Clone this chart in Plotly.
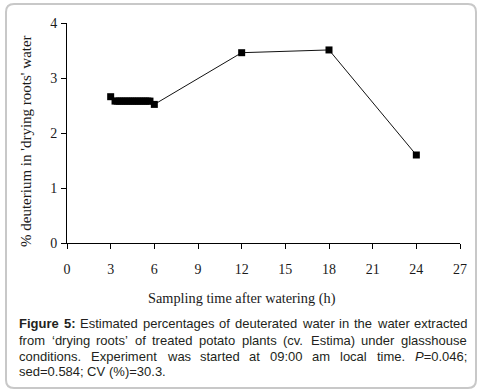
import plotly.graph_objects as go

# ---- data ----
time_h = [3, 3.3, 3.45, 3.6, 3.75, 3.9, 4.05, 4.2, 4.35, 4.5, 4.65, 4.8, 4.95, 5.1, 5.25, 5.4, 5.55, 5.7, 6, 12, 18, 24]
deut_pct = [2.66, 2.58, 2.58, 2.58, 2.58, 2.58, 2.58, 2.58, 2.58, 2.58, 2.58, 2.58, 2.58, 2.58, 2.58, 2.58, 2.58, 2.58, 2.52, 3.46, 3.51, 1.60]
x_ticks = [0, 3, 6, 9, 12, 15, 18, 21, 24, 27]
y_ticks = [0, 1, 2, 3, 4]

caption_lines = [
    ["<b>Figure</b>", "<b>5:</b>", "Estimated", "percentages", "of", "deuterated", "water", "in", "the", "water", "extracted"],
    ["from", "\u2018drying", "roots\u2019", "of", "treated", "potato", "plants", "(cv.", "Estima)", "under", "glasshouse"],
    ["conditions.", "Experiment", "was", "started", "at", "09:00", "am", "local", "time.", "<i>P</i>=0.046;"],
    ["sed=0.584;", "CV", "(%)=30.3."],
]

W, H = 482, 392
L, R, T, B = 67, 22, 23, 149
PW, PH = W - L - R, H - T - B

# Arial widths (per 1000 em)
AW = {' ': 278, 'a': 556, 'b': 556, 'c': 500, 'd': 556, 'e': 556, 'f': 278, 'g': 556, 'h': 556,
      'i': 222, 'j': 222, 'k': 500, 'l': 222, 'm': 833, 'n': 556, 'o': 556, 'p': 556, 'q': 556,
      'r': 333, 's': 500, 't': 278, 'u': 556, 'v': 500, 'w': 722, 'x': 500, 'y': 500, 'z': 500,
      'E': 667, 'F': 611, 'P': 667, 'C': 722, 'V': 667, ':': 278, '.': 278, ';': 278, '=': 584,
      '(': 333, ')': 333, '%': 889, '\u2018': 222, '\u2019': 222}
for d in '0123456789':
    AW[d] = 556
BW = {'F': 611, 'i': 278, 'g': 611, 'u': 611, 'r': 389, 'e': 556, '5': 556, ':': 333}


def word_width(w, size):
    bold = w.startswith('<b>')
    plain = w.replace('<b>', '').replace('</b>', '').replace('<i>', '').replace('</i>', '')
    tab = BW if bold else AW
    return sum(tab.get(c, AW.get(c, 556)) for c in plain) * size / 1000.0


def px_to_paper_x(px):
    return (px - L) / PW


def py_to_paper_y(py):
    return (H - B - py) / PH


fig = go.Figure()
fig.add_trace(go.Scatter(
    x=time_h, y=deut_pct, mode='lines+markers',
    line=dict(color='#111111', width=1),
    marker=dict(symbol='square', size=7, color='black'),
    hoverinfo='skip', showlegend=False,
))

serif = 'Liberation Serif, Times New Roman, serif'
sans = 'Liberation Sans, Arial, sans-serif'

annotations = []
# axis titles
annotations.append(dict(text="% deuterium in 'drying roots' water", textangle=-90,
                        x=px_to_paper_x(26), y=py_to_paper_y(141), xref='paper', yref='paper',
                        showarrow=False, font=dict(family=serif, size=15, color='#1a1a1a'),
                        xanchor='center', yanchor='middle'))
annotations.append(dict(text="Sampling time after watering (h)",
                        x=px_to_paper_x(242), y=py_to_paper_y(299), xref='paper', yref='paper',
                        showarrow=False, font=dict(family=serif, size=14.3, color='#1a1a1a'),
                        xanchor='center', yanchor='middle'))

# justified caption
cap_size = 13
left_px, right_px = 17, 465
line_y = [323, 340, 356, 371]
for i, words in enumerate(caption_lines):
    widths = [word_width(w, cap_size) for w in words]
    if i < len(caption_lines) - 1:
        gap = (right_px - left_px - sum(widths)) / (len(words) - 1)
    else:
        gap = AW[' '] * cap_size / 1000.0
    x = left_px
    for w, ww in zip(words, widths):
        annotations.append(dict(text=w, x=px_to_paper_x(x), y=py_to_paper_y(line_y[i]),
                                xref='paper', yref='paper', showarrow=False,
                                xanchor='left', yanchor='middle',
                                font=dict(family=sans, size=cap_size, color='#231f20')))
        x += ww + gap

# rounded border
x0, y0, x1, y1, r = 6, 4, 476, 388, 8
def P(px, py):
    return f"{px_to_paper_x(px)},{py_to_paper_y(py)}"
path = (f"M {P(x0 + r, y0)} L {P(x1 - r, y0)} Q {P(x1, y0)} {P(x1, y0 + r)} "
        f"L {P(x1, y1 - r)} Q {P(x1, y1)} {P(x1 - r, y1)} L {P(x0 + r, y1)} "
        f"Q {P(x0, y1)} {P(x0, y1 - r)} L {P(x0, y0 + r)} Q {P(x0, y0)} {P(x0 + r, y0)} Z")

fig.update_layout(
    width=W, height=H,
    margin=dict(l=L, r=R, t=T, b=B, autoexpand=False),
    paper_bgcolor='white', plot_bgcolor='white',
    annotations=annotations,
    shapes=[dict(type='path', path=path, xref='paper', yref='paper',
                 line=dict(color='#c8c8c8', width=2), layer='below')],
    xaxis=dict(range=[0, 27], tickvals=x_ticks, ticktext=[str(v) for v in x_ticks],
               showgrid=False, zeroline=False, showline=True, linecolor='black', linewidth=1,
               ticks='outside', ticklen=5, tickcolor='black', ticklabelstandoff=8,
               tickfont=dict(family=serif, size=14, color='#1a1a1a')),
    yaxis=dict(range=[0, 4], tickvals=y_ticks, ticktext=[str(v) for v in y_ticks],
               showgrid=False, zeroline=False, showline=True, linecolor='black', linewidth=1,
               ticks='outside', ticklen=5, tickcolor='black', ticklabelstandoff=1,
               tickfont=dict(family=serif, size=14, color='#1a1a1a')),
)

fig.write_html("out.html", config={'displayModeBar': False},
               post_script="document.body.style.margin='0';document.body.style.padding='0';document.body.style.overflow='hidden';")
